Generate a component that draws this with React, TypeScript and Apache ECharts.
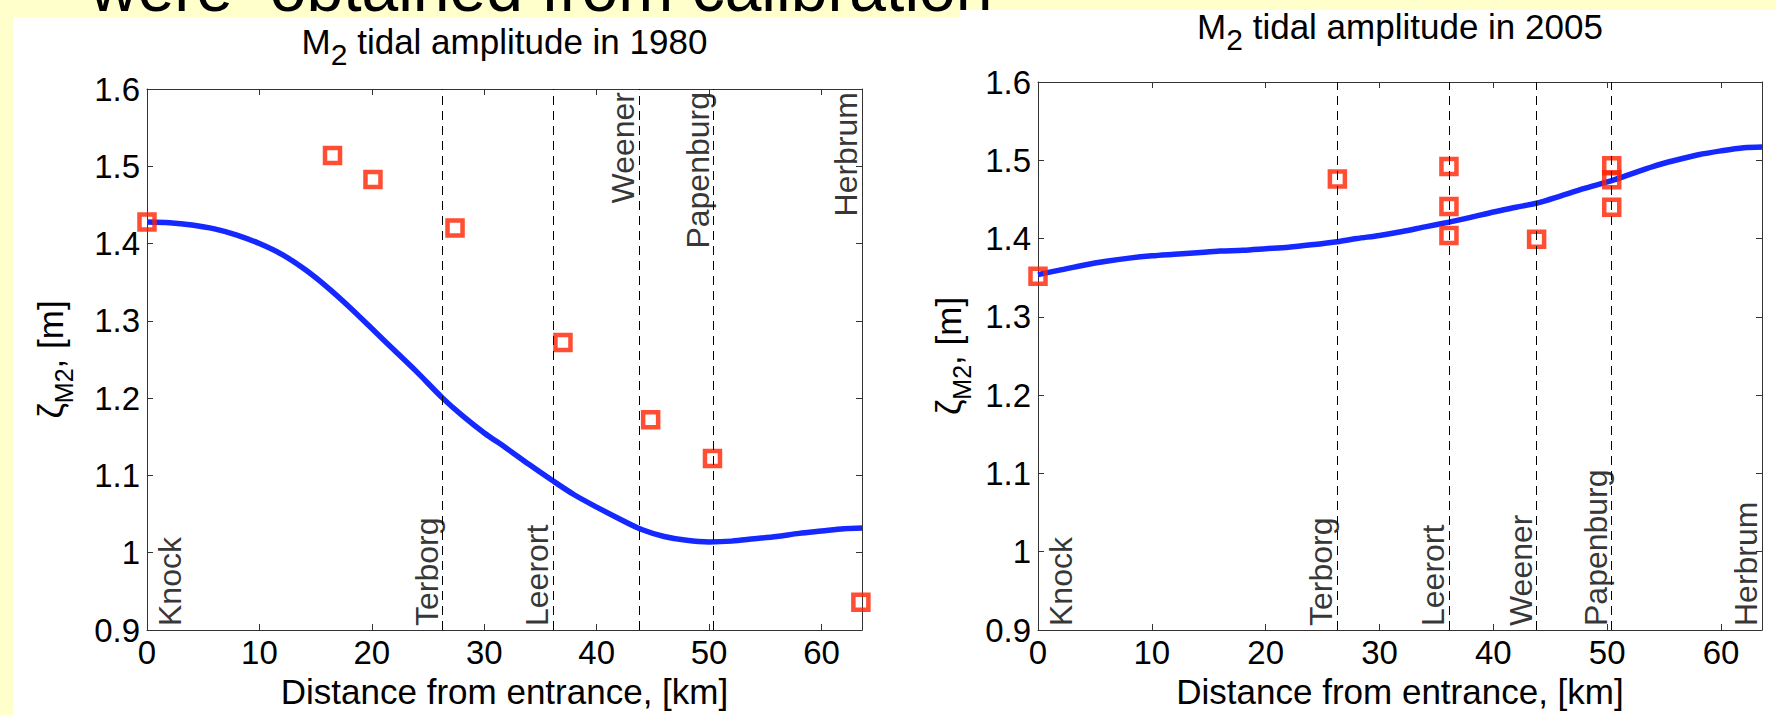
import React, { useEffect, useRef } from "react";
import * as echarts from "echarts";

// ---------- data ----------
const xTicks = [0, 10, 20, 30, 40, 50, 60];
const yTicks = [0.9, 1, 1.1, 1.2, 1.3, 1.4, 1.5, 1.6];
const xMin = 0;
const xMax = 63.6;
const yMin = 0.9;
const yMax = 1.6;

const stationNames = ["Knock", "Terborg", "Leerort", "Weener", "Papenburg", "Herbrum"];
const stationKm = [0, 26.3, 36.1, 43.8, 50.4, 63.6];
const dashedKm = [26.3, 36.1, 43.8, 50.4];
const labelSide1980 = ["bottom", "bottom", "bottom", "top", "top", "top"];
const labelSide2005 = ["bottom", "bottom", "bottom", "bottom", "bottom", "bottom"];

const curve1980X = [0, 2, 4, 6, 8, 10, 12, 14, 16, 18, 20, 22, 24, 26.3, 28, 30, 32, 34, 36.1, 38, 40, 42, 44, 46, 48, 50, 52, 54, 56, 58, 60, 62, 63.6];
const curve1980Y = [1.428, 1.427, 1.424, 1.419, 1.411, 1.4, 1.386, 1.367, 1.344, 1.318, 1.29, 1.262, 1.234, 1.2, 1.178, 1.155, 1.135, 1.114, 1.093, 1.075, 1.059, 1.044, 1.03, 1.021, 1.016, 1.014, 1.015, 1.018, 1.021, 1.025, 1.028, 1.031, 1.032];
const obs1980X = [0, 16.5, 20.1, 27.4, 37.0, 44.8, 50.3, 63.5];
const obs1980Y = [1.428, 1.514, 1.483, 1.42, 1.272, 1.172, 1.122, 0.936];

const curve2005X = [0, 2, 4, 6, 8, 10, 12, 14, 16, 18, 20, 22, 24, 26.3, 28, 30, 32, 34, 36.1, 38, 40, 42, 44, 46, 48, 50.4, 52, 54, 56, 58, 60, 62, 63.6];
const curve2005Y = [1.354, 1.36, 1.366, 1.371, 1.375, 1.378, 1.38, 1.382, 1.384, 1.385, 1.387, 1.389, 1.392, 1.396, 1.4, 1.404, 1.409, 1.415, 1.421, 1.427, 1.434, 1.44, 1.446, 1.455, 1.464, 1.474, 1.482, 1.492, 1.5, 1.507, 1.512, 1.516, 1.517];
const obs2005X = [0, 26.3, 36.1, 36.1, 36.1, 43.8, 50.4, 50.4, 50.4];
const obs2005Y = [1.352, 1.476, 1.492, 1.441, 1.404, 1.399, 1.493, 1.475, 1.44];

const titles = ["1980", "2005"];

// ---------- styling ----------
const FONT = "'Liberation Sans', Arial, Helvetica, sans-serif";
const AXIS_COLOR = "#333";
const CURVE_COLOR = "#1428ff";
const OBS_COLOR = "#ff2200";

const grids = [
  { left: 147, top: 89, width: 715, height: 541 },
  { left: 1038, top: 82, width: 724, height: 548 },
];

function buildOption() {
  const xAxis: any[] = [];
  const yAxis: any[] = [];
  const series: any[] = [];
  const sets = [
    { cx: curve1980X, cy: curve1980Y, ox: obs1980X, oy: obs1980Y, side: labelSide1980 },
    { cx: curve2005X, cy: curve2005Y, ox: obs2005X, oy: obs2005Y, side: labelSide2005 },
  ];

  sets.forEach((s, gi) => {
    const common = {
      gridIndex: gi,
      type: "value",
      splitLine: { show: false },
      axisLine: { show: true, onZero: false, lineStyle: { color: AXIS_COLOR, width: 1 } },
      axisTick: { show: true, inside: true, length: 6, lineStyle: { color: AXIS_COLOR, width: 1 } },
    };
    xAxis.push({
      ...common,
      position: "bottom",
      min: xMin,
      max: xMax,
      interval: 10,
      axisTick: { ...common.axisTick, customValues: xTicks },
      axisLabel: { customValues: xTicks, fontSize: 33, color: "#000", fontFamily: FONT, margin: 6 },
      name: "Distance from entrance, [km]",
      nameLocation: "middle",
      nameGap: 38,
      nameTextStyle: { fontSize: 35, color: "#000", fontFamily: FONT },
    });
    xAxis.push({
      ...common,
      position: "top",
      min: xMin,
      max: xMax,
      interval: 10,
      axisTick: { ...common.axisTick, customValues: xTicks },
      axisLabel: { show: false },
    });
    yAxis.push({
      ...common,
      position: "left",
      min: yMin,
      max: yMax,
      interval: 0.1,
      axisTick: { ...common.axisTick, customValues: yTicks },
      axisLabel: { customValues: yTicks, fontSize: 33, color: "#000", fontFamily: FONT, margin: 7 },
    });
    yAxis.push({
      ...common,
      position: "right",
      min: yMin,
      max: yMax,
      interval: 0.1,
      axisTick: { ...common.axisTick, customValues: yTicks },
      axisLabel: { show: false },
    });

    const xi = gi * 2;
    const yi = gi * 2;

    series.push({
      type: "line",
      xAxisIndex: xi,
      yAxisIndex: yi,
      data: s.cx.map((x, i) => [x, s.cy[i]]),
      showSymbol: false,
      smooth: 0.3,
      lineStyle: { color: CURVE_COLOR, width: 5.5 },
      z: 3,
      silent: true,
      markLine: {
        silent: true,
        symbol: ["none", "none"],
        label: { show: false },
        lineStyle: { color: "#000", width: 1, type: [9, 6] },
        emphasis: { disabled: true },
        data: dashedKm.map((x) => ({ xAxis: x })),
      },
    });

    series.push({
      type: "scatter",
      xAxisIndex: xi,
      yAxisIndex: yi,
      symbol: "rect",
      symbolSize: 15,
      itemStyle: { color: "rgba(0,0,0,0)", borderColor: OBS_COLOR, borderWidth: 4.5 },
      data: s.ox.map((x, i) => [x, s.oy[i]]),
      z: 4,
      silent: true,
    });

    series.push({
      type: "scatter",
      xAxisIndex: xi,
      yAxisIndex: yi,
      symbolSize: 1,
      itemStyle: { color: "rgba(0,0,0,0)" },
      silent: true,
      z: 5,
      data: stationKm.map((x, i) => {
        const top = s.side[i] === "top";
        let label: any;
        if (i === 0) {
          label = { align: "left", verticalAlign: "top", padding: [7, 0, 0, 4] };
        } else if (top) {
          label = { align: "right", verticalAlign: "bottom", padding: [0, 3, 0, 0] };
        } else {
          label = { align: "left", verticalAlign: "bottom", padding: [0, 0, 0, 4] };
        }
        return {
          name: stationNames[i],
          value: [x, top ? yMax : yMin],
          label,
        };
      }),
      label: {
        show: true,
        position: "inside",
        formatter: "{b}",
        rotate: 90,
        fontSize: 32,
        color: "#000",
        fontFamily: FONT,
      },
    });
  });

  const title = titles.map((yr, gi) => ({
    text: "M{sub|2} tidal amplitude in " + yr,
    left: grids[gi].left + grids[gi].width / 2,
    top: gi === 0 ? 13 : -2,
    textAlign: "center",
    padding: 0,
    textStyle: {
      fontSize: 35,
      fontWeight: "normal",
      color: "#000",
      fontFamily: FONT,
      rich: {
        sub: { fontSize: 30, color: "#000", fontFamily: FONT, padding: [26, 0, 0, 0] },
      },
    },
  }));

  const yLabels = grids.map((g, gi) => ({
    type: "text",
    x: gi === 0 ? 50 : 948,
    y: g.top + g.height / 2,
    rotation: Math.PI / 2,
    z: 10,
    style: {
      text: "ζ{sub|M2}, [m]",
      fontSize: 35,
      fontFamily: FONT,
      fill: "#000",
      align: "center",
      verticalAlign: "middle",
      rich: {
        sub: { fontSize: 25, fontFamily: FONT, fill: "#000", padding: [28, 0, 0, 0] },
      },
    },
  }));

  return {
    animation: false,
    backgroundColor: "#FFFFCC",
    title,
    grid: grids,
    xAxis,
    yAxis,
    series,
    graphic: [
      {
        type: "text",
        x: 90,
        y: -12,
        z: -20,
        silent: true,
        style: {
          text: "were  obtained from calibration",
          fontSize: 66,
          lineHeight: 20,
          fontFamily: FONT,
          fill: "#000",
          align: "left",
          verticalAlign: "middle",
        },
      },
      {
        type: "rect",
        z: -10,
        silent: true,
        shape: { x: 13, y: 17, width: 960 - 13, height: 715 - 17 },
        style: { fill: "#ffffff" },
      },
      {
        type: "rect",
        z: -10,
        silent: true,
        shape: { x: 960, y: 10, width: 1776 - 960, height: 715 - 10 },
        style: { fill: "#ffffff" },
      },
      ...yLabels,
    ],
  };
}

export default function App() {
  const ref = useRef<HTMLDivElement>(null);
  useEffect(() => {
    if (!ref.current) return;
    const chart = echarts.init(ref.current, null, { renderer: "svg" });
    chart.setOption(buildOption() as any);
    return () => chart.dispose();
  }, []);
  return (
    <div
      ref={ref}
      style={{ position: "absolute", left: 0, top: 0, width: 1776, height: 715 }}
    />
  );
}
